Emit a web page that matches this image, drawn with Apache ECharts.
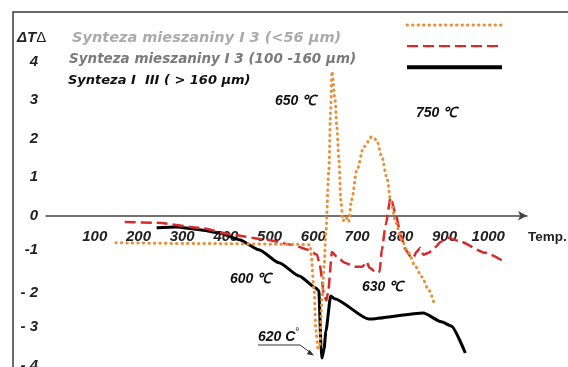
<!DOCTYPE html>
<html><head><meta charset="utf-8">
<script src="https://cdn.jsdelivr.net/npm/echarts/dist/echarts.min.js"></script>
<style>html,body{margin:0;padding:0;background:#fff;}#c{width:568px;height:367px;}</style>
</head><body><div id="c"></div>
<script>
const seriesNames = ['Synteza mieszaniny I 3 (<56 μm)', 'Synteza mieszaniny I 3 (100 -160 μm)', 'Synteza I  III ( > 160 μm)'];
const seriesColors = ['#E8903A', '#D52B2B', '#000000'];
const legendTextColors = ['#ababab', '#7a7a7a', '#111111'];

const orangeT = [160, 350, 580, 604, 606, 613, 617, 622, 626, 631, 636, 640, 647, 651, 654, 661, 665, 670, 674, 679, 686, 692, 699, 711, 727, 745, 756, 768, 779, 790, 800, 813, 829, 845, 859, 875, 888];
const orangeV = [-0.70, -0.72, -0.74, -0.75, -1.0, -1.92, -2.96, -3.43, -3.38, -2.18, -1.32, -0.44, 1.19, 2.75, 3.74, 3.01, 2.31, 1.45, 0.42, -0.13, -0.03, -0.16, 0.42, 1.19, 1.79, 2.05, 1.97, 1.53, 1.01, 0.29, -0.18, -0.62, -0.96, -1.32, -1.58, -1.92, -2.29];

const redT = [180, 253, 351, 426, 503, 563, 599, 620, 626, 636, 641, 645, 654, 665, 683, 706, 724, 733, 740, 756, 763, 768, 777, 788, 800, 811, 822, 834, 840, 847, 856, 863, 875, 891, 902, 920, 943, 1005, 1052];
const redV = [-0.16, -0.18, -0.31, -0.49, -0.62, -0.75, -0.88, -1.01, -1.27, -2.05, -2.2, -2.0, -0.94, -1.06, -1.22, -1.32, -1.32, -1.19, -1.35, -1.48, -1.45, -0.88, -0.23, 0.47, 0.03, -0.49, -0.88, -1.06, -1.09, -0.94, -0.83, -1.01, -0.96, -0.81, -0.68, -0.57, -0.65, -0.96, -1.22];

const blackT = [253, 298, 351, 396, 442, 487, 533, 579, 617, 624, 629, 631, 636, 640, 651, 660, 738, 863, 904, 927, 959];
const blackV = [-0.31, -0.29, -0.36, -0.44, -0.62, -0.88, -1.22, -1.56, -1.87, -1.95, -3.40, -3.69, -3.45, -3.0, -2.08, -2.15, -2.68, -2.52, -2.75, -2.86, -3.56];

const xTickValues = [100, 200, 300, 400, 500, 600, 700, 800, 900, 1000];
const xTickLabels = ['100', '200', '300', '400', '500', '600', '700', '800', '900', '1000'];
const yTickValues = [-4, -3, -2, -1, 0, 1, 2, 3, 4];
const yTickLabels = ['- 4', '- 3', '- 2', '-1', '0', '1', '2', '3', '4'];

const zip = (a, b) => a.map((t, i) => [t, b[i]]);
const AR = 'Liberation Sans, Arial, sans-serif';

const chart = echarts.init(document.getElementById('c'), null, {renderer: 'canvas'});
const lineTypes = [
  {width: 3, type: [0.5, 5], cap: 'round'},
  {width: 2.5, type: [11, 5], cap: 'butt'},
  {width: 3, type: 'solid', cap: 'butt'}
];
const legendLineWidths = [3, 2.2, 4];
const legendFontSizes = [14.5, 13.5, 13];
const legendTextPad = [[0, 0, 0, 4], [0, 0, 0, 1], [0, 0, 0, 0]];

const xLabelFmt = v => { const i = xTickValues.indexOf(Math.round(v)); return i >= 0 ? xTickLabels[i] : ''; };
// label nudges (printed labels in the original sit slightly off the scale)
const yLabelStyleKey = {'-4': 'up', '-3': 'up', '-1': 'up'};
const yLabelFmt = v => {
  const i = yTickValues.indexOf(Math.round(v));
  if (i < 0 || Math.abs(v - Math.round(v)) > 1e-6) return '';
  const k = yLabelStyleKey[String(Math.round(v))] || 'n';
  return '{' + k + '|' + yTickLabels[i] + '}';
};
const yLabelFont = {fontFamily: AR, fontSize: 15, fontStyle: 'italic', fontWeight: 'bold', color: '#222'};

chart.setOption({
  animation: false,
  backgroundColor: '#ffffff',
  grid: {left: 46, right: 41, top: 23, height: 347, outerBoundsMode: 'none', containLabel: false},
  xAxis: [
    {
      type: 'value', min: 0, max: 1100, interval: 100,
      axisLine: {onZero: true, symbol: ['none', 'arrow'], symbolSize: [7, 9], lineStyle: {color: '#444', width: 1.5}},
      axisTick: {show: false},
      splitLine: {show: false},
      axisLabel: {show: false},
      name: 'Temp.', nameLocation: 'end', nameGap: 1,
      nameTextStyle: {fontFamily: AR, fontSize: 13.5, fontWeight: 'bold', color: '#222', align: 'left', verticalAlign: 'top', padding: [15, 0, 0, 0]}
    },
    {
      type: 'value', min: 0, max: 1100, interval: 100, position: 'bottom', offset: -154,
      axisLine: {show: false, onZero: false}, axisTick: {show: false}, splitLine: {show: false},
      axisLabel: {
        show: true, margin: 13, padding: [0, 0, 0, 10],
        fontFamily: AR, fontSize: 15, fontStyle: 'italic', fontWeight: 'bold', color: '#222',
        formatter: xLabelFmt
      }
    }
  ],
  yAxis: {
    type: 'value', min: -4, max: 5, interval: 1,
    axisLine: {show: false}, axisTick: {show: false}, splitLine: {show: false},
    axisLabel: Object.assign({
      margin: 8,
      formatter: yLabelFmt,
      rich: {
        n: Object.assign({}, yLabelFont),
        up: Object.assign({padding: [0, 0, 9, 0]}, yLabelFont)
      }
    }, yLabelFont)
  },
  legend: [
    {
      data: seriesNames.map((n, i) => ({name: n, textStyle: {color: legendTextColors[i], fontSize: legendFontSizes[i], padding: legendTextPad[i]}})),
      orient: 'vertical', left: 63, top: 28, padding: 0, itemGap: 1.5,
      itemWidth: 0, itemHeight: 14, icon: 'rect', itemStyle: {opacity: 0}, selectedMode: false,
      textStyle: {fontFamily: 'DejaVu Sans', fontStyle: 'italic', fontWeight: 'bold', fontSize: 13.5, lineHeight: 20}
    },
    {
      data: seriesNames.map((n, i) => ({name: n, lineStyle: {width: legendLineWidths[i]}})),
      orient: 'vertical', left: 405, top: 18, padding: 0, itemGap: 8.5,
      itemWidth: 95, itemHeight: 14, itemStyle: {opacity: 0}, selectedMode: false,
      formatter: () => '', textStyle: {fontSize: 1}
    }
  ],
  series: [
    {name: seriesNames[0], type: 'line', data: zip(orangeT, orangeV), symbol: 'none', smooth: 0.3, smoothMonotone: 'x',
     lineStyle: Object.assign({color: seriesColors[0]}, lineTypes[0]), itemStyle: {color: seriesColors[0]}, z: 4},
    {name: seriesNames[1], type: 'line', data: zip(redT, redV), symbol: 'none', smooth: 0.2, smoothMonotone: 'x',
     lineStyle: Object.assign({color: seriesColors[1]}, lineTypes[1]), itemStyle: {color: seriesColors[1]}, z: 3},
    {name: seriesNames[2], type: 'line', data: zip(blackT, blackV), symbol: 'none', smooth: 0.2, smoothMonotone: 'x',
     lineStyle: Object.assign({color: seriesColors[2]}, lineTypes[2]), itemStyle: {color: seriesColors[2]}, z: 2}
  ],
  graphic: [
    {type: 'rect', silent: true, z: 0, shape: {x: 13, y: 12, width: 600, height: 400}, style: {fill: 'none', stroke: '#3a3a3a', lineWidth: 1.5}},
    {type: 'text', x: 17, y: 38, style: {text: '{a|ΔT}{b|Δ}', verticalAlign: 'middle', fill: '#222',
      rich: {a: {fontFamily: AR, fontSize: 15, fontStyle: 'italic', fontWeight: 'bold', fill: '#222'}, b: {fontFamily: AR, fontSize: 15, fill: '#222'}}}},
    {type: 'text', x: 275, y: 101, style: {text: '650 ℃', font: 'italic bold 14px ' + AR, fill: '#111', verticalAlign: 'middle'}},
    {type: 'text', x: 416, y: 113, style: {text: '750 ℃', font: 'italic bold 14px ' + AR, fill: '#111', verticalAlign: 'middle'}},
    {type: 'text', x: 230, y: 279, style: {text: '600 ℃', font: 'italic bold 14px ' + AR, fill: '#111', verticalAlign: 'middle'}},
    {type: 'text', x: 362, y: 287, style: {text: '630 ℃', font: 'italic bold 14px ' + AR, fill: '#111', verticalAlign: 'middle'}},
    {type: 'text', x: 258, y: 337, style: {text: '{a|620 C}{s|°}', verticalAlign: 'middle', fill: '#111',
      rich: {a: {fontFamily: AR, fontSize: 14, fontStyle: 'italic', fontWeight: 'bold', fill: '#111'}, s: {fontFamily: AR, fontSize: 10, fill: '#111', padding: [0, 0, 9, 0]}}}},
    {type: 'polyline', silent: true, shape: {points: [[258, 345], [300, 345], [311, 353]]}, style: {stroke: '#333', lineWidth: 1, fill: 'none'}},
    {type: 'polygon', silent: true, shape: {points: [[314, 355.5], [306.8, 354.2], [309.6, 349.8]]}, style: {fill: '#333'}}
  ]
});
</script></body></html>
